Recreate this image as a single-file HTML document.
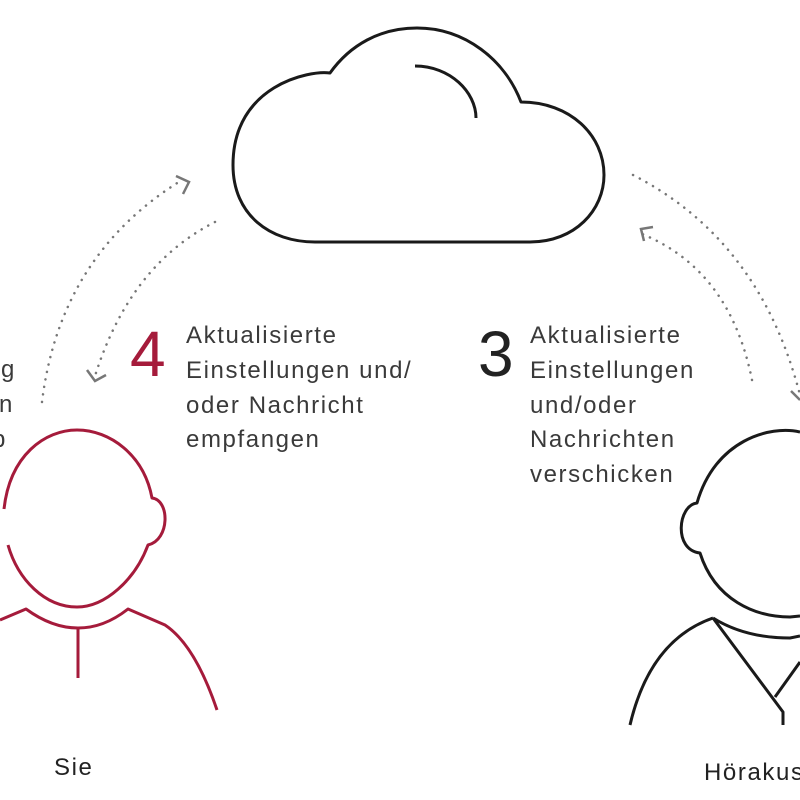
<!DOCTYPE html>
<html><head><meta charset="utf-8"><style>
html,body{margin:0;padding:0;background:#fff;}
svg{display:block;}
text{font-family:"Liberation Sans",sans-serif;}
</style></head><body>
<svg width="800" height="800" viewBox="0 0 800 800" xmlns="http://www.w3.org/2000/svg">
<rect width="800" height="800" fill="#fff"/>
<!-- cloud -->
<path d="M330,73 C310,70 233,85 233,165 C233,215 270,242 315,242 L530,242 C575,242 604,210 604,175 C604,135 570,102 521,102 C505,60 465,28 417,28 C380,28 350,45 330,73 Z" fill="none" stroke="#1a1a1a" stroke-width="3" stroke-linejoin="round"/>
<path d="M415,66 C450,66 476,92 476,118" fill="none" stroke="#1a1a1a" stroke-width="3"/>
<!-- dotted arrows -->
<g fill="none" stroke="#777" stroke-width="2.5" stroke-dasharray="0.1 7.5" stroke-linecap="round">
<path d="M42,402 Q60,255 182,180"/>
<path d="M215,222 Q130,265 95,376"/>
<path d="M633,175 Q760,240 800,395"/>
<path d="M752,380 Q730,270 642,234"/>
</g>
<g fill="none" stroke="#777" stroke-width="2.5">
<path d="M176,176 L189,182 L183,194"/>
<path d="M87,370 L95,381 L106,375"/>
<path d="M653,227 L641,229 L644,241"/>
<path d="M791,391 L800,400"/>
</g>
<!-- left person red -->
<g fill="none" stroke="#a51b3b" stroke-width="3" stroke-linejoin="round">
<path d="M4,509 C10,455 45,430 77,430 C110,430 144,455 152,498 C170,500 170,540 148,545 C135,580 105,607 77,607 C45,607 18,580 8,545"/>
<path d="M0,620 L26,609 Q52,628 78,628 Q104,628 128,609 L165,625 Q195,645 217,710"/>
<path d="M78,628 L78,678"/>
</g>
<!-- right person black -->
<g fill="none" stroke="#1a1a1a" stroke-width="3" stroke-linejoin="round">
<path d="M800,432 C770,425 715,440 697,503 C678,505 673,550 700,553 C715,600 755,617 790,617 L800,616"/>
<path d="M713,618 Q745,638 790,638 L800,636"/>
<path d="M713,618 Q650,640 630,725"/>
<path d="M713,618 L783,712 L783,725"/>
<path d="M775,697 L800,662"/>
</g>
<!-- numbers -->
<text x="130" y="376" font-size="64" fill="#a51b3b">4</text>
<text x="478" y="376" font-size="64" fill="#222">3</text>
<g font-size="24" fill="#3a3a3a" letter-spacing="1.6">
<text x="186" y="343">Aktualisierte</text>
<text x="186" y="378">Einstellungen und/</text>
<text x="186" y="413">oder Nachricht</text>
<text x="186" y="447">empfangen</text>
<text x="530" y="343">Aktualisierte</text>
<text x="530" y="378">Einstellungen</text>
<text x="530" y="413">und/oder</text>
<text x="530" y="447">Nachrichten</text>
<text x="530" y="482">verschicken</text>
<text x="1" y="377">g</text>
<text x="-1" y="412">n</text>
<text x="-8" y="447">p</text>
<text x="54" y="775" fill="#222">Sie</text>
<text x="704" y="780" fill="#222">Hörakustiker</text>
</g>
</svg>
</body></html>
